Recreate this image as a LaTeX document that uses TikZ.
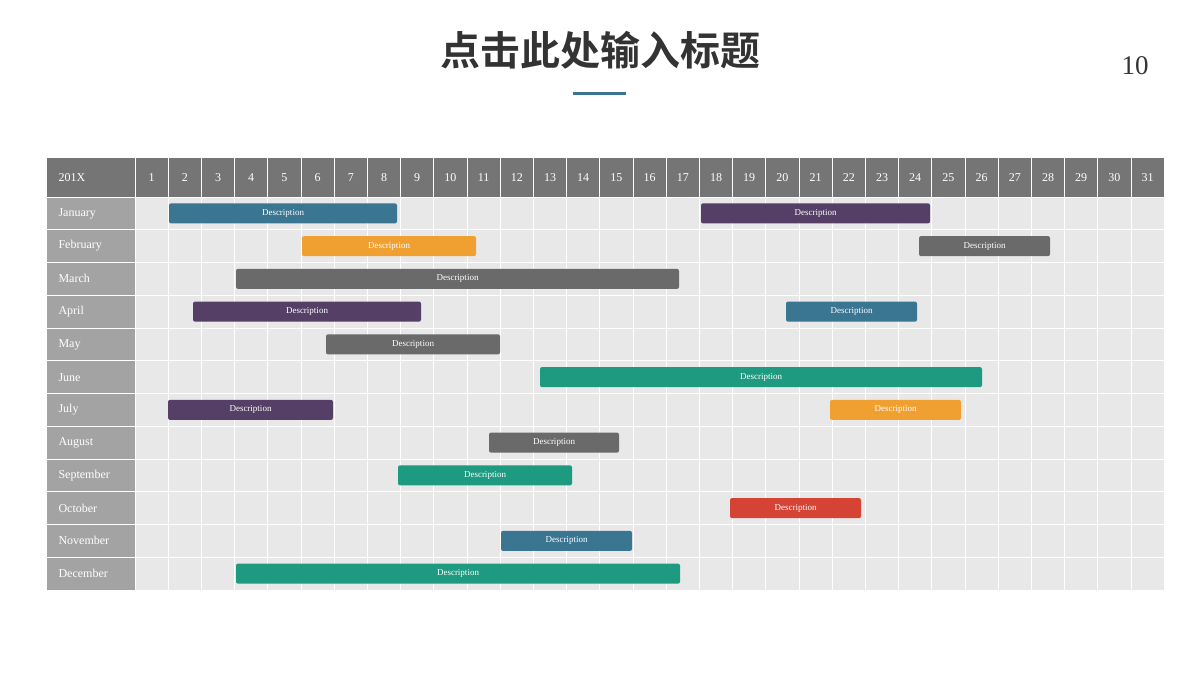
\documentclass[tikz,border=0pt]{standalone}
\usepackage{fontspec}
\setmainfont{Liberation Serif}
\newfontfamily\cjk{Noto Sans CJK SC Bold}
\definecolor{cblue}{HTML}{3A7591}
\definecolor{corange}{HTML}{F0A030}
\definecolor{cgray}{HTML}{6A6A6A}
\definecolor{cpurple}{HTML}{553F66}
\definecolor{cteal}{HTML}{1E9A80}
\definecolor{cred}{HTML}{D44334}
\definecolor{hdr}{HTML}{757575}
\definecolor{mcol}{HTML}{A3A3A3}
\definecolor{cell}{HTML}{E8E8E8}
\begin{document}
\begin{tikzpicture}[x=1pt,y=-1pt,
  bar/.style={rounded corners=2pt,text=white,font=\fontsize{9}{9}\selectfont,inner sep=0pt,anchor=center},
  lab/.style={text=white,font=\fontsize{12}{12}\selectfont}]
\useasboundingbox (0,0) rectangle (1200,675);
\node[font=\cjk\fontsize{40}{40}\selectfont,text=black!80] (title) at (600,50) {点击此处输入标题};
\draw[cblue,line width=3pt] (573,93) -- (626,93);
\node[font=\fontsize{27}{27}\selectfont,text=black!80] (pg) at (1135,66) {10};
\fill[cell] (135,197) rectangle (1164,590);
\fill[hdr] (47,158) rectangle (1164,197);
\fill[mcol] (47,197) rectangle (135,590);
\foreach \i in {0,...,31}{ \draw[white,line width=1pt] ({135+\i*33.2},158) -- ({135+\i*33.2},590); }
\foreach \i in {1,...,31}{ \node[lab] (d\i) at ({135+(\i-0.5)*33.2},178) {\i}; }
\node[lab,anchor=west] (yr) at (55,178) {201X};
\foreach \j in {0,...,12}{ \draw[white,line width=1pt] (47,{197+\j*32.75}) -- (1164,{197+\j*32.75}); }
\foreach \m [count=\j from 0] in {January,February,March,April,May,June,July,August,September,October,November,December}{
  \node[lab,anchor=west] (m\j) at (55,{197+(\j+0.5)*32.75}) {\m};}
\newcommand\gbar[4]{\node[bar,fill=#4,minimum width={#2-#1},minimum height=20pt] at ({(#1+#2)/2},{197+(#3+0.5)*32.75}) {Description};}
\gbar{169}{397}{0}{cblue}
\gbar{701}{930}{0}{cpurple}
\gbar{302}{476}{1}{corange}
\gbar{919}{1050}{1}{cgray}
\gbar{236}{679}{2}{cgray}
\gbar{193}{421}{3}{cpurple}
\gbar{786}{917}{3}{cblue}
\gbar{326}{500}{4}{cgray}
\gbar{540}{982}{5}{cteal}
\gbar{168}{333}{6}{cpurple}
\gbar{830}{961}{6}{corange}
\gbar{489}{619}{7}{cgray}
\gbar{398}{572}{8}{cteal}
\gbar{730}{861}{9}{cred}
\gbar{501}{632}{10}{cblue}
\gbar{236}{680}{11}{cteal}
\end{tikzpicture}
\end{document}
